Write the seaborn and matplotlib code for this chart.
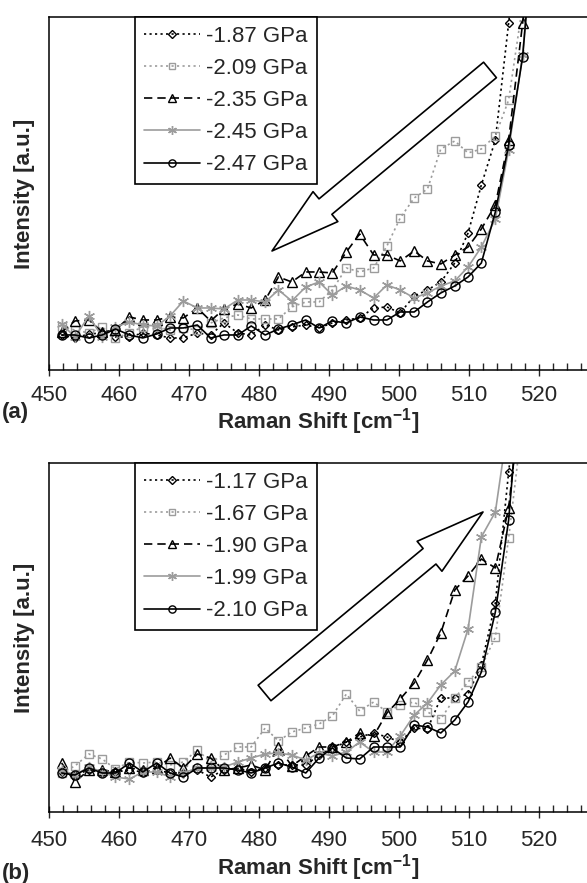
"""plot.py - Raman spectra under pressure, two panels (a) and (b)"""

import matplotlib
matplotlib.use('Agg')
import matplotlib.pyplot as plt
import seaborn as sns
from matplotlib.ticker import MultipleLocator

# Raman shift of every recorded point [cm^-1] (same grid for both panels)
shift = [451.8, 453.7, 455.7, 457.6, 459.5, 461.5, 463.4, 465.4, 467.3, 469.2,
         471.2, 473.1, 475.0, 477.0, 478.9, 480.9, 482.8, 484.7, 486.7, 488.6,
         490.5, 492.5, 494.4, 496.4, 498.3, 500.2, 502.2, 504.1, 506.0, 508.0,
         509.9, 511.8, 513.8, 515.7, 517.7, 519.6]

# panel (a) - intensity in a.u.
labels_a = ['-1.87 GPa', '-2.09 GPa', '-2.35 GPa', '-2.45 GPa', '-2.47 GPa']
a_187 = [35, 32, 36, 37, 33, 33, 37, 35, 32, 32, 37, 35, 47, 37, 35, 45, 40, 43,
         45, 42, 47, 50, 52, 62, 63, 57, 74, 80, 88, 107, 137, 185, 230, 347, 470, 670]
a_209 = [43, 40, 37, 43, 32, 37, 43, 43, 40, 42, 40, 47, 52, 55, 51, 51, 51, 63,
         68, 68, 80, 102, 98, 102, 124, 152, 172, 181, 221, 229, 217, 221, 234, 270, 365, 470]
a_235 = [38, 49, 50, 38, 40, 53, 50, 50, 53, 52, 62, 49, 61, 66, 62, 70, 93, 88,
         98, 98, 97, 118, 136, 115, 115, 109, 119, 109, 106, 115, 123, 141, 165, 230, 347, 470]
a_245 = [46, 33, 54, 33, 43, 48, 45, 44, 54, 69, 62, 62, 61, 70, 70, 68, 80, 69,
         83, 88, 75, 84, 80, 72, 85, 80, 72, 77, 84, 89, 103, 123, 151, 220, 315, 470]
a_247 = [35, 35, 32, 35, 41, 35, 32, 36, 42, 42, 45, 32, 35, 35, 44, 35, 41, 45,
         50, 42, 49, 47, 53, 50, 50, 58, 58, 68, 77, 84, 93, 107, 158, 225, 313, 470]

# panel (b)
labels_b = ['-1.17 GPa', '-1.67 GPa', '-1.90 GPa', '-1.99 GPa', '-2.10 GPa']
b_117 = [40, 37, 42, 39, 40, 42, 40, 42, 39, 39, 42, 35, 42, 44, 40, 44, 47, 47,
         47, 57, 64, 70, 75, 79, 75, 70, 84, 83, 114, 114, 118, 147, 209, 340, 462, 600]
b_167 = [39, 46, 58, 53, 43, 50, 49, 50, 47, 50, 62, 50, 57, 65, 65, 84, 71, 80,
         84, 88, 96, 118, 101, 110, 100, 107, 110, 100, 93, 114, 130, 145, 175, 274, 392, 520]
b_190 = [49, 30, 42, 42, 40, 44, 42, 44, 54, 44, 58, 54, 42, 44, 47, 42, 65, 46,
         56, 65, 65, 70, 79, 76, 99, 113, 129, 152, 179, 222, 236, 253, 244, 304, 432, 560]
b_199 = [42, 37, 45, 40, 35, 33, 40, 40, 35, 39, 44, 44, 45, 50, 54, 58, 59, 57,
         52, 59, 56, 60, 70, 60, 60, 76, 97, 109, 127, 141, 183, 275, 300, 392, 520, 650]
b_210 = [39, 37, 44, 39, 39, 49, 40, 49, 39, 35, 44, 44, 44, 42, 39, 44, 49, 45,
         39, 54, 64, 54, 53, 65, 65, 65, 87, 85, 79, 92, 110, 140, 200, 292, 460, 600]

# (color, marker, markersize, linestyle) for the 5 curves, same order in both panels
GRAY = '#9c9c9c'
STYLES = [
    ('black', 'D', 4.5, (0, (1.3, 2.0))),
    (GRAY, 's', 6.0, (0, (1.3, 2.0))),
    ('black', '^', 7.0, (0, (5, 3))),
    (GRAY, (6, 2, 0), 8.0, '-'),
    ('black', 'o', 6.5, '-'),
]

sns.set_style('white')
plt.rcParams['font.family'] = ['Liberation Sans', 'DejaVu Sans']
plt.rcParams['mathtext.fontset'] = 'custom'
plt.rcParams['mathtext.rm'] = 'Liberation Sans'
plt.rcParams['mathtext.bf'] = 'Liberation Sans:bold'

FS = 16


def draw_panel(ax, curves, labels, ymax, tail, tip, tickpad, xlabelpad):
    for vals, lab, (c, m, ms, ls) in zip(curves, labels, STYLES):
        sns.lineplot(x=shift, y=vals, ax=ax, color=c, marker=m, markersize=ms,
                     linestyle=ls, linewidth=1.2, mfc='none', mec=c, mew=1.0,
                     label=lab, estimator=None)

    ax.set_xlim(450, 526.9)
    ax.set_ylim(0, ymax)
    ax.set_yticks([])
    ax.xaxis.set_major_locator(MultipleLocator(10))
    ax.xaxis.set_minor_locator(MultipleLocator(2))
    ax.tick_params(axis='x', which='major', direction='inout', length=8, width=1,
                   labelsize=FS, pad=tickpad, bottom=True)
    ax.tick_params(axis='x', which='minor', direction='in', length=5, width=1, bottom=True)
    for side in ('left', 'top', 'bottom'):
        ax.spines[side].set_visible(True)
        ax.spines[side].set_color('black')
        ax.spines[side].set_linewidth(1.1)
    ax.spines['right'].set_visible(False)

    ax.set_xlabel('Raman Shift [cm$^{\\mathbf{-1}}$]', fontsize=FS, fontweight='bold',
                  labelpad=xlabelpad)
    ax.set_ylabel('Intensity [a.u.]', fontsize=FS, fontweight='bold', labelpad=10)

    leg = ax.legend(loc='upper left', bbox_to_anchor=(0.16, 1.0), borderaxespad=0,
                    fontsize=FS, frameon=True, fancybox=False, framealpha=1,
                    edgecolor='black', handlelength=2.5, handletextpad=0.3,
                    labelspacing=0.5, borderpad=0.4, markerscale=0.8)
    leg.get_frame().set_linewidth(1.2)

    # hollow block arrow showing the trend
    ax.annotate('', xy=tip, xytext=tail, xycoords='axes fraction',
                arrowprops=dict(arrowstyle='simple,head_length=50,head_width=28,tail_width=14.5',
                                mutation_scale=1, fc='white', ec='black', lw=1.2,
                                shrinkA=0, shrinkB=0), zorder=5)


fig = plt.figure(figsize=(5.87, 8.83), dpi=100)
ax_a = fig.add_axes([0.0835, 0.581, 0.9165, 0.3998])
ax_b = fig.add_axes([0.0835, 0.0804, 0.9165, 0.3953])

draw_panel(ax_a, [a_187, a_209, a_235, a_245, a_247], labels_a, 353,
           tail=(0.8197, 0.8499), tip=(0.4145, 0.3371), tickpad=7, xlabelpad=0)
draw_panel(ax_b, [b_117, b_167, b_190, b_199, b_210], labels_b, 349,
           tail=(0.4006, 0.3410), tip=(0.8067, 0.8596), tickpad=9, xlabelpad=1)

fig.text(0.003, 0.5334, '(a)', fontsize=FS, fontweight='bold', va='center', ha='left')
fig.text(0.003, 0.0113, '(b)', fontsize=FS, fontweight='bold', va='center', ha='left')

fig.savefig('out.png', dpi=100)
plt.close(fig)
